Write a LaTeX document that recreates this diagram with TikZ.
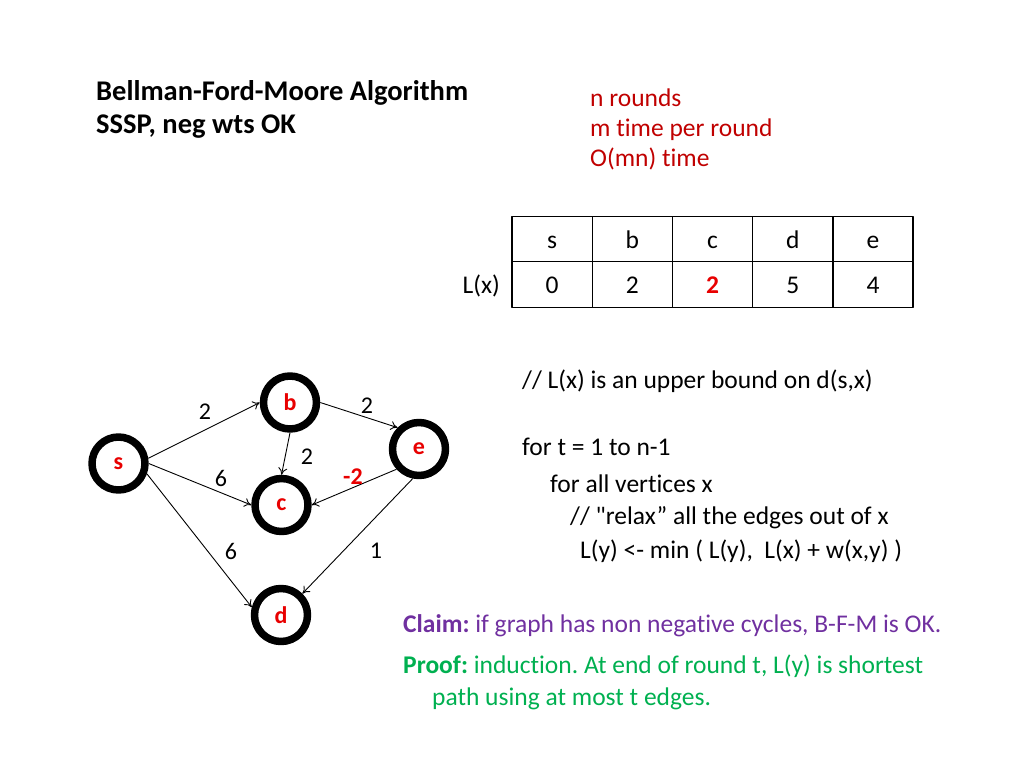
\documentclass[tikz,border=0pt]{standalone}
\usepackage{fontspec}
\defaultfontfeatures[\rmfamily]{}
\setmainfont{Carlito}[Ligatures=NoCommon]
\usetikzlibrary{arrows.meta,positioning}
\definecolor{vertexred}{RGB}{232,0,0}
\definecolor{note}{RGB}{192,0,0}
\definecolor{claim}{RGB}{112,48,160}
\definecolor{proof}{RGB}{0,176,80}
\tikzset{
	every picture/.style={line join=round},
}
\frenchspacing
\begin{document}
\begin{tikzpicture}[x=1pt,y=-1pt,
		vertex/.style={circle,draw=black,line width=7.5pt,minimum size=53pt,inner sep=0pt,
			text=vertexred,font=\fontsize{24}{28}\selectfont\bfseries},
		edge/.style={-{To[length=7pt,width=9pt]},line width=0.9pt},
		weight/.style={inner sep=0pt,font=\fontsize{24}{28}\selectfont},
		txt/.style={anchor=base west,inner sep=0pt,font=\fontsize{25.5}{30}\selectfont},
		cell/.style={draw,line width=1.3pt,minimum width=80.2pt,minimum height=45.5pt,
			inner sep=0pt,text height=18pt,text depth=0pt,font=\fontsize{25.5}{30}\selectfont}]
	\useasboundingbox (0,0) rectangle (1024,768);
	% title and cost
	\node[txt,font=\fontsize{28.5}{34}\selectfont\bfseries] (title) at (96,100) {Bellman-Ford-Moore Algorithm};
	\node[txt,font=\fontsize{28.5}{34}\selectfont\bfseries] (subtitle) at (96,133) {SSSP, neg wts OK};
	\node[txt,text=note] (cost1) at (590,106) {n rounds};
	\node[txt,text=note] (cost2) at (590,136) {m time per round};
	\node[txt,text=note] (cost3) at (590,166) {O(mn) time};
	% table
	\foreach \name [count=\i] in {s,b,c,d,e}
		\node[cell] (h\i) at (472+80.2*\i,239) {\name};
	\foreach \val [count=\i] in {0,2,{\textcolor{vertexred}{\bfseries 2}},5,4}
		\node[cell] (v\i) at (472+80.2*\i,284.5) {\val};
	\node[txt,anchor=base east] (lx) at (500,293) {L(x)};
	% graph
	\node[vertex] (s) at (118.5,463.5) {s};
	\node[vertex] (b) at (290,402.5) {b};
	\node[vertex] (e) at (419,449) {e};
	\node[vertex] (c) at (281.5,505) {c};
	\node[vertex] (d) at (281,615) {d};
	\draw[edge] (s.10) -- (b.west);
	\draw[edge] (s.east) -- (c.west);
	\draw[edge] (s.340) -- (d.165);
	\draw[edge] (b.south) -- (c.north);
	\draw[edge] (b.east) -- (e.135);
	\draw[edge] (e.222) -- (c.east);
	\draw[edge] (e.258) -- (d.45);
	\node[weight] (wsb) at (205,412) {2};
	\node[weight] (wbe) at (367,406) {2};
	\node[weight] (wbc) at (307,457) {2};
	\node[weight] (wsc) at (221,478) {6};
	\node[weight,text=vertexred,font=\fontsize{24}{28}\selectfont\bfseries] (wec) at (353,476.5) {-2};
	\node[weight] (wsd) at (231,551) {6};
	\node[weight] (wed) at (376,551) {1};
	% algorithm
	\node[txt] (inv) at (522,388) {// L(x) is an upper bound on d(s,x)};
	\node[txt] (loop1) at (522,455) {for t = 1 to n-1};
	\node[txt] (loop2) at (550,492) {for all vertices x};
	\node[txt] (cmt) at (570,524) {// "relax” all the edges out of x};
	\node[txt] (relax) at (580,558) {L(y) <- min ( L(y),\ \ L(x) + w(x,y) )};
	% claim and proof
	\node[txt,text=claim] (claim) at (403,632) {\textbf{Claim:} if graph has non negative cycles, B-F-M is OK.};
	\node[txt,text=proof] (proof) at (403,673) {\textbf{Proof:} induction. At end of round t, L(y) is shortest};
	\node[txt,text=proof] (proof2) at (432,705) {path using at most t edges.};
\end{tikzpicture}
\end{document}
